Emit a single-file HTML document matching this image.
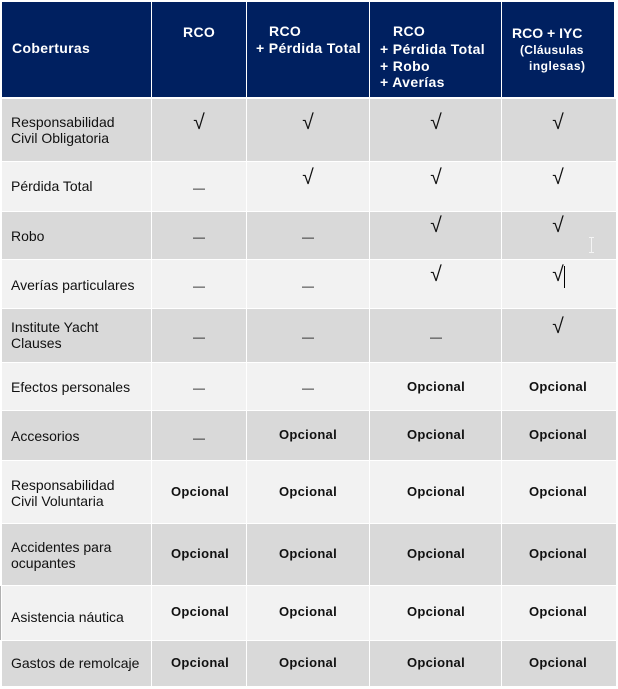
<!DOCTYPE html>
<html><head><meta charset="utf-8">
<style>
*{margin:0;padding:0;box-sizing:border-box}
html,body{width:618px;height:689px;background:#fff;overflow:hidden}
body{position:relative;font-family:"Liberation Sans",Arial,sans-serif;color:#111}
.bg{position:absolute;left:2px;width:614px}
.g{background:#d9d9d9}
.l{background:#f2f2f2}
.h{background:#002060}
.v{position:absolute;top:2px;width:1px;height:684px;background:#fff}
.t{position:absolute;font-size:14px;line-height:16px;height:16px;white-space:nowrap}
.w{color:#fff;font-weight:bold;letter-spacing:0.35px}
.c{position:absolute;width:120px;text-align:center;white-space:nowrap}
.o{font-size:13px;font-weight:bold;line-height:16px;height:16px;letter-spacing:0.3px}
.k{font-size:21px;line-height:22px;height:22px}
.d{font-size:12px;line-height:12px;height:12px}
</style></head><body>
<!-- header -->
<div class="bg h" style="top:2px;height:95px;width:612px"></div>
<!-- rows -->
<div class="bg g" style="top:99px;height:62px"></div>
<div class="bg l" style="top:162px;height:49px"></div>
<div class="bg g" style="top:212px;height:47px"></div>
<div class="bg l" style="top:260px;height:48px"></div>
<div class="bg g" style="top:309px;height:53px"></div>
<div class="bg l" style="top:363px;height:47px"></div>
<div class="bg g" style="top:411px;height:49px"></div>
<div class="bg l" style="top:461px;height:62px"></div>
<div class="bg g" style="top:524px;height:61px"></div>
<div class="bg l" style="top:586px;height:54px"></div>
<div class="bg g" style="top:641px;height:45px"></div>
<div style="position:absolute;left:0;top:586px;width:1px;height:54px;background:#b0b0b0"></div>
<!-- vertical separators -->
<div class="v" style="left:151px"></div>
<div class="v" style="left:246px"></div>
<div class="v" style="left:369px"></div>
<div class="v" style="left:501px"></div>

<!-- header text -->
<div class="t w" style="left:12px;top:40px">Coberturas</div>
<div class="t w" style="left:183px;top:24px">RCO</div>
<div class="t w" style="left:269px;top:23px">RCO</div>
<div class="t w" style="left:256px;top:40px">+ Pérdida Total</div>
<div class="t w" style="left:393px;top:23px">RCO</div>
<div class="t w" style="left:380px;top:41px">+ Pérdida Total</div>
<div class="t w" style="left:380px;top:58px">+ Robo</div>
<div class="t w" style="left:380px;top:74px">+ Averías</div>
<div class="t w" style="left:512px;top:25px;letter-spacing:0">RCO + IYC</div>
<div class="t w" style="left:520px;top:42px;font-size:12px;letter-spacing:0.3px">(Cláusulas</div>
<div class="t w" style="left:529px;top:58px;font-size:12px;letter-spacing:0.5px">inglesas)</div>

<!-- labels -->
<div class="t" style="left:11px;top:114px">Responsabilidad</div>
<div class="t" style="left:11px;top:130px">Civil Obligatoria</div>
<div class="t" style="left:11px;top:178px">Pérdida Total</div>
<div class="t" style="left:11px;top:228px">Robo</div>
<div class="t" style="left:11px;top:277px">Averías particulares</div>
<div class="t" style="left:11px;top:319px">Institute Yacht</div>
<div class="t" style="left:11px;top:335px">Clauses</div>
<div class="t" style="left:11px;top:379px">Efectos personales</div>
<div class="t" style="left:11px;top:428px">Accesorios</div>
<div class="t" style="left:11px;top:477px">Responsabilidad</div>
<div class="t" style="left:11px;top:493px">Civil Voluntaria</div>
<div class="t" style="left:11px;top:539px">Accidentes para</div>
<div class="t" style="left:11px;top:555px">ocupantes</div>
<div class="t" style="left:11px;top:609px">Asistencia náutica</div>
<div class="t" style="left:11px;top:655px">Gastos de remolcaje</div>

<!-- checks -->
<div class="c k" style="left:139px;top:112px">√</div>
<div class="c k" style="left:248px;top:112px">√</div>
<div class="c k" style="left:376px;top:112px">√</div>
<div class="c k" style="left:498px;top:112px">√</div>

<div class="c k" style="left:248px;top:167px">√</div>
<div class="c k" style="left:376px;top:167px">√</div>
<div class="c k" style="left:498px;top:167px">√</div>

<div class="c k" style="left:376px;top:215px">√</div>
<div class="c k" style="left:498px;top:215px">√</div>

<div class="c k" style="left:376px;top:264px">√</div>
<div class="c k" style="left:498px;top:264px">√</div>

<div class="c k" style="left:498px;top:316px">√</div>

<!-- cursors -->
<div style="position:absolute;left:564px;top:266px;width:1px;height:22px;background:#000"></div>
<div style="position:absolute;left:591px;top:237px;width:1px;height:16px;background:#f4f4f4"></div>
<div style="position:absolute;left:589px;top:237px;width:5px;height:1px;background:#f4f4f4"></div>
<div style="position:absolute;left:589px;top:252px;width:5px;height:1px;background:#f4f4f4"></div>

<!-- dashes -->
<div class="c d" style="left:139px;top:182px">—</div>
<div class="c d" style="left:139px;top:231px">—</div>
<div class="c d" style="left:248px;top:231px">—</div>
<div class="c d" style="left:139px;top:280px">—</div>
<div class="c d" style="left:248px;top:280px">—</div>
<div class="c d" style="left:139px;top:331px">—</div>
<div class="c d" style="left:248px;top:331px">—</div>
<div class="c d" style="left:376px;top:331px">—</div>
<div class="c d" style="left:139px;top:382px">—</div>
<div class="c d" style="left:248px;top:382px">—</div>
<div class="c d" style="left:139px;top:432px">—</div>

<!-- Opcional -->
<div class="c o" style="left:376px;top:379px">Opcional</div>
<div class="c o" style="left:498px;top:379px">Opcional</div>

<div class="c o" style="left:248px;top:427px">Opcional</div>
<div class="c o" style="left:376px;top:427px">Opcional</div>
<div class="c o" style="left:498px;top:427px">Opcional</div>

<div class="c o" style="left:140px;top:484px">Opcional</div>
<div class="c o" style="left:248px;top:484px">Opcional</div>
<div class="c o" style="left:376px;top:484px">Opcional</div>
<div class="c o" style="left:498px;top:484px">Opcional</div>

<div class="c o" style="left:140px;top:546px">Opcional</div>
<div class="c o" style="left:248px;top:546px">Opcional</div>
<div class="c o" style="left:376px;top:546px">Opcional</div>
<div class="c o" style="left:498px;top:546px">Opcional</div>

<div class="c o" style="left:140px;top:604px">Opcional</div>
<div class="c o" style="left:248px;top:604px">Opcional</div>
<div class="c o" style="left:376px;top:604px">Opcional</div>
<div class="c o" style="left:498px;top:604px">Opcional</div>

<div class="c o" style="left:140px;top:655px">Opcional</div>
<div class="c o" style="left:248px;top:655px">Opcional</div>
<div class="c o" style="left:376px;top:655px">Opcional</div>
<div class="c o" style="left:498px;top:655px">Opcional</div>
</body></html>
